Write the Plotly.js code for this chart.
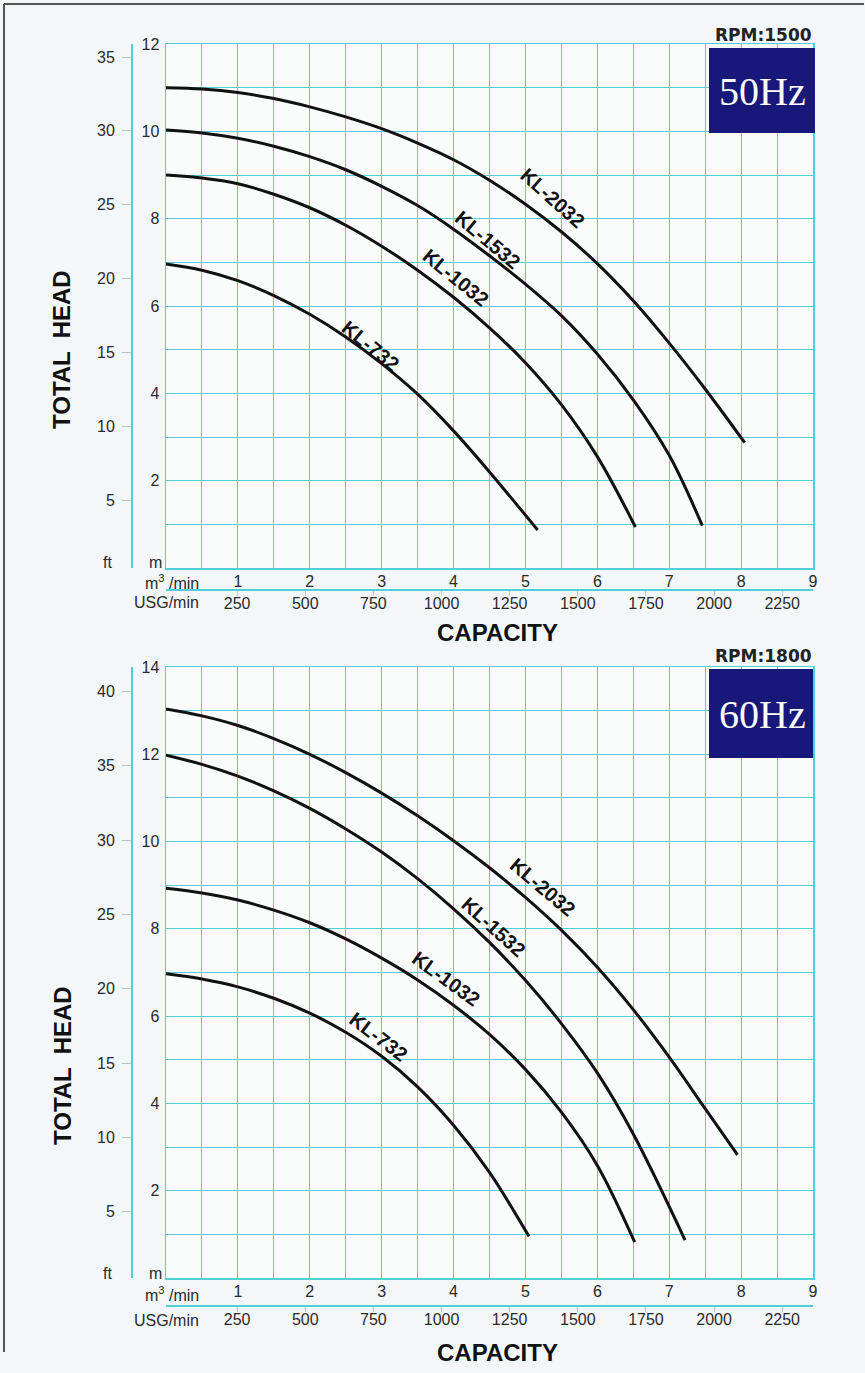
<!DOCTYPE html>
<html>
<head>
<meta charset="utf-8">
<script src="https://cdn.plot.ly/plotly-3.0.1.min.js"></script>
<style>html,body{margin:0;padding:0;background:#f3f7f9;}#chart{width:865px;height:1373px;}</style>
</head>
<body>
<div id="chart"></div>
<script>
// ---- Data (capacity in m3/min, head in m) ----
var models = ["KL-2032", "KL-1532", "KL-1032", "KL-732"];

// 50 Hz, 1500 rpm
var hz50_x_2032 = [0, 0.5, 1, 1.5, 2, 2.5, 3, 3.5, 4, 4.5, 5, 5.5, 6, 6.5, 7, 7.5, 8.05];
var hz50_y_2032 = [11.0, 10.97, 10.89, 10.75, 10.56, 10.33, 10.06, 9.73, 9.35, 8.88, 8.33, 7.7, 6.97, 6.12, 5.15, 4.1, 2.87];
var hz50_x_1532 = [0, 0.5, 1, 1.5, 2, 2.5, 3, 3.5, 4, 4.5, 5, 5.5, 6, 6.5, 7, 7.46];
var hz50_y_1532 = [10.03, 9.96, 9.84, 9.66, 9.42, 9.12, 8.74, 8.3, 7.76, 7.15, 6.5, 5.78, 4.9, 3.85, 2.58, 0.97];
var hz50_x_1032 = [0, 0.5, 1, 1.5, 2, 2.5, 3, 3.5, 4, 4.5, 5, 5.5, 6, 6.53];
var hz50_y_1032 = [9.0, 8.93, 8.8, 8.56, 8.25, 7.85, 7.37, 6.82, 6.2, 5.5, 4.7, 3.74, 2.55, 0.94];
var hz50_x_732 = [0, 0.5, 1, 1.5, 2, 2.5, 3, 3.5, 4, 4.5, 5.17];
var hz50_y_732 = [6.96, 6.82, 6.58, 6.24, 5.81, 5.29, 4.68, 3.98, 3.14, 2.2, 0.87];

// 60 Hz, 1800 rpm
var hz60_x_2032 = [0, 0.5, 1, 1.5, 2, 2.5, 3, 3.5, 4, 4.5, 5, 5.5, 6, 6.5, 7, 7.5, 7.95];
var hz60_y_2032 = [13.04, 12.88, 12.66, 12.36, 12.0, 11.58, 11.11, 10.59, 10.02, 9.4, 8.72, 7.97, 7.12, 6.15, 5.06, 3.88, 2.82];
var hz60_x_1532 = [0, 0.5, 1, 1.5, 2, 2.5, 3, 3.5, 4, 4.5, 5, 5.5, 6, 6.5, 7.22];
var hz60_y_1532 = [11.98, 11.77, 11.5, 11.16, 10.76, 10.29, 9.76, 9.15, 8.46, 7.69, 6.82, 5.83, 4.7, 3.3, 0.87];
var hz60_x_1032 = [0, 0.5, 1, 1.5, 2, 2.5, 3, 3.5, 4, 4.5, 5, 5.5, 6, 6.52];
var hz60_y_1032 = [8.93, 8.82, 8.66, 8.43, 8.14, 7.77, 7.33, 6.83, 6.25, 5.58, 4.78, 3.8, 2.58, 0.82];
var hz60_x_732 = [0, 0.5, 1, 1.5, 2, 2.5, 3, 3.5, 4, 4.5, 5.05];
var hz60_y_732 = [6.97, 6.85, 6.67, 6.41, 6.07, 5.63, 5.08, 4.38, 3.5, 2.42, 0.95];

// Label positions along curves [x, y, angle]
var hz50_labels = [[5.38, 8.48, 42], [4.48, 7.52, 40], [4.04, 6.65, 39], [2.85, 5.08, 39]];
var hz60_labels = [[5.24, 8.96, 40], [4.56, 8.05, 42], [3.9, 6.85, 36], [2.96, 5.52, 37]];

// Tick labels
var m3Ticks = [0.5, 1, 1.5, 2, 2.5, 3, 3.5, 4, 4.5, 5, 5.5, 6, 6.5, 7, 7.5, 8, 8.5, 9];
var usgTicks = [250, 500, 750, 1000, 1250, 1500, 1750, 2000, 2250];
var ftTicks50 = [5, 10, 15, 20, 25, 30, 35];
var ftTicks60 = [5, 10, 15, 20, 25, 30, 35, 40];
var mTicks50 = [1,2,3,4,5,6,7,8,9,10,11,12];
var mTicks60 = [1,2,3,4,5,6,7,8,9,10,11,12,13,14];

// ---- Helpers ----
var W = 865, H = 1373;
function px(x) { return x / W; }
function py(y) { return 1 - y / H; }
var GRID = '#4fd0d8';
var FONT = 'Liberation Sans, Arial, Helvetica, sans-serif';
var TXT = '#2a2a2a';

function evenText(vals) { return vals.map(function (v) { return (v % 2 === 0) ? String(v) : ''; }); }
function m3Text(vals) { return vals.map(function (v) { return (v % 1 === 0) ? String(v) : ''; }); }

var traces = [];
function addCurve(xs, ys, xa, ya) {
  traces.push({x: xs, y: ys, xaxis: xa, yaxis: ya, mode: 'lines', type: 'scatter',
    line: {color: '#111', width: 3, shape: 'spline', smoothing: 1},
    hoverinfo: 'skip', showlegend: false});
}
addCurve(hz50_x_2032, hz50_y_2032, 'x', 'y');
addCurve(hz50_x_1532, hz50_y_1532, 'x', 'y');
addCurve(hz50_x_1032, hz50_y_1032, 'x', 'y');
addCurve(hz50_x_732, hz50_y_732, 'x', 'y');
addCurve(hz60_x_2032, hz60_y_2032, 'x2', 'y2');
addCurve(hz60_x_1532, hz60_y_1532, 'x2', 'y2');
addCurve(hz60_x_1032, hz60_y_1032, 'x2', 'y2');
addCurve(hz60_x_732, hz60_y_732, 'x2', 'y2');

// invisible traces to register the secondary (USG / ft) axes
function ghost(xa, ya, xv, yv) {
  traces.push({x: [xv], y: [yv], xaxis: xa, yaxis: ya, mode: 'markers', type: 'scatter',
    marker: {opacity: 0}, hoverinfo: 'skip', showlegend: false});
}
ghost('x3', 'y', usgTicks[0], 1);
ghost('x', 'y3', 1, ftTicks50[0]);
ghost('x4', 'y2', usgTicks[0], 1);
ghost('x2', 'y4', 1, ftTicks60[0]);

var tickFont = {family: FONT, size: 16, color: TXT};
var xDom = [px(166), px(813)];

function mainX(anchor) {
  return {domain: xDom, anchor: anchor, range: [0, 9], tickmode: 'array', tickvals: m3Ticks,
    ticktext: m3Text(m3Ticks), showgrid: true, gridcolor: GRID, gridwidth: 1, zeroline: false,
    showline: true, linecolor: GRID, linewidth: 1.5, mirror: true, ticks: '',
    ticklabelstandoff: -2, tickfont: tickFont, fixedrange: true};
}
function mainY(dom, top, vals, anchor) {
  return {domain: dom, anchor: anchor, range: [0, top], tickmode: 'array', tickvals: vals,
    ticktext: evenText(vals), showgrid: true, gridcolor: GRID, gridwidth: 1, zeroline: false,
    showline: true, linecolor: GRID, linewidth: 1.5, mirror: true, ticks: '',
    ticklabelstandoff: 2, tickfont: tickFont, fixedrange: true};
}
function usgX(over, posPx) {
  return {overlaying: over, anchor: 'free', position: py(posPx), side: 'bottom', range: [-11, 2363],
    tickmode: 'array', tickvals: usgTicks, ticks: 'outside', ticklen: 5, tickcolor: '#b8c4c6',
    showline: true, linecolor: GRID, linewidth: 1.5, showgrid: false, zeroline: false,
    tickfont: tickFont, ticklabelstandoff: -6, fixedrange: true};
}
function ftY(over, rng, vals) {
  return {overlaying: over, anchor: 'free', position: px(131), side: 'left', range: rng,
    tickmode: 'array', tickvals: vals, ticks: 'outside', ticklen: 9, tickcolor: '#b8c4c6',
    showline: true, linecolor: GRID, linewidth: 1.5, showgrid: false, zeroline: false,
    tickfont: tickFont, ticklabelstandoff: 4, fixedrange: true};
}

var ann = [];
function lab(x, y, text, opts) {
  var a = {xref: 'paper', yref: 'paper', x: px(x), y: py(y), text: text, showarrow: false,
    xanchor: 'center', yanchor: 'middle', font: {family: FONT, size: 16, color: TXT}};
  for (var k in opts) a[k] = opts[k];
  ann.push(a);
}
function panelText(rpm, hz, plotBottom, unitY, usgY, capY, boxTop, boxBottom) {
  lab(155, plotBottom - 5, 'm');
  lab(107, plotBottom - 5, 'ft');
  lab(201, unitY, 'm<sup>3</sup> /min', {xanchor: 'right'});
  lab(201, usgY, 'USG/min', {xanchor: 'right'});
  lab(497, capY, '<b>CAPACITY</b>', {font: {family: FONT, size: 24, color: '#111'}});
  lab(814, boxTop - 13, 'RPM:' + rpm, {xanchor: 'right', font: {family: 'DejaVu Sans, Arial, sans-serif', size: 17, color: '#222', weight: 'bold'}});
  lab(762, (boxTop + boxBottom) / 2 + 1, hz, {font: {family: 'Liberation Serif, Times New Roman, serif', size: 40, color: '#ffffff'}});
}
panelText('1500', '50Hz', 568, 582, 603, 632, 48, 133);
panelText('1800', '60Hz', 1278, 1294, 1320, 1352, 669, 758);
lab(62, 350, '<b>TOTAL  HEAD</b>', {textangle: -90, font: {family: FONT, size: 24, color: '#111'}});
lab(62, 1066, '<b>TOTAL  HEAD</b>', {textangle: -90, font: {family: FONT, size: 24, color: '#111'}});

function curveLabels(list, xr, yr) {
  for (var i = 0; i < models.length; i++) {
    ann.push({xref: xr, yref: yr, x: list[i][0], y: list[i][1], text: '<b>' + models[i] + '</b>',
      textangle: list[i][2], showarrow: false, xanchor: 'center', yanchor: 'middle',
      font: {family: FONT, size: 20, color: '#111'}});
  }
}
curveLabels(hz50_labels, 'x', 'y');
curveLabels(hz60_labels, 'x2', 'y2');

var shapes = [
  {type: 'rect', xref: 'paper', yref: 'paper', x0: px(709), x1: px(815), y0: py(48), y1: py(133),
    fillcolor: '#17187a', line: {width: 0}, layer: 'above'},
  {type: 'rect', xref: 'paper', yref: 'paper', x0: px(709), x1: px(813), y0: py(669), y1: py(758),
    fillcolor: '#17187a', line: {width: 0}, layer: 'above'},
  {type: 'line', xref: 'paper', yref: 'paper', x0: px(4), x1: px(864), y0: py(4), y1: py(4),
    line: {color: '#555', width: 2}},
  {type: 'line', xref: 'paper', yref: 'paper', x0: px(4), x1: px(4), y0: py(4), y1: py(1352),
    line: {color: '#555', width: 2}}
];

var layout = {
  width: W, height: H, margin: {l: 0, r: 0, t: 0, b: 0},
  paper_bgcolor: '#f3f7f9', plot_bgcolor: '#fafcfc', showlegend: false,
  xaxis: mainX('y'),
  yaxis: mainY([py(568), py(44)], 12, mTicks50, 'x'),
  xaxis2: mainX('y2'),
  yaxis2: mainY([py(1278), py(667)], 14, mTicks60, 'x2'),
  xaxis3: usgX('x', 589),
  yaxis3: ftY('y', [0.41, 35.88], ftTicks50),
  xaxis4: usgX('x2', 1305),
  yaxis4: ftY('y2', [0.54, 41.65], ftTicks60),
  annotations: ann, shapes: shapes
};

Plotly.newPlot('chart', traces, layout, {displayModeBar: false, staticPlot: true});
</script>
</body>
</html>
